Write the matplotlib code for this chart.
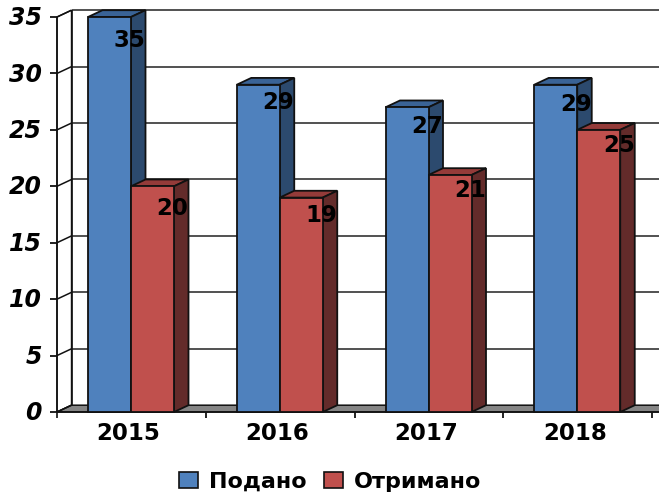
import matplotlib
matplotlib.use("Agg")
import matplotlib.pyplot as plt
from matplotlib.patches import Polygon, Patch

years = ["2015", "2016", "2017", "2018"]
podano = [35, 29, 27, 29]
otrymano = [20, 19, 21, 25]
y_ticks = [0, 5, 10, 15, 20, 25, 30, 35]

# decalage des etiquettes sous le haut de la barre (en points)
podano_label_drop = [17, 13, 14, 14]
otrymano_label_drop = [16, 13, 11, 11]

W, H = 659, 495
fig = plt.figure(figsize=(W / 100, H / 100), dpi=100)
plt.rcParams["font.family"] = ["DejaVu Sans"]

# axes = plan avant du graphique 3D
left, right, top, bottom = 57, 652, 17, 412
ax = fig.add_axes([left / W, 1 - bottom / H, (right - left) / W, (bottom - top) / H])
ax.set_xlim(0, 4)
ax.set_ylim(0, 35)
ax.axis("off")

# profondeur du pseudo 3D en unites de donnees
dx = 14.5 / 148.75
dy = 6.8 / (395 / 35)
x_max = 4.2
line = "#111111"


def poly(pts, fc, z, ec=line, lw=1.3):
    ax.add_patch(Polygon(pts, closed=True, fc=fc, ec=ec, lw=lw, zorder=z, clip_on=False, joinstyle="miter"))


def seg(xs, ys, c=line, lw=1.0, z=2):
    ax.plot(xs, ys, color=c, lw=lw, zorder=z, clip_on=False, solid_capstyle="butt")


# murs et sol
poly([(0, 0), (dx, dy), (dx, 35 + dy), (0, 35)], "white", 1, lw=1.0)
poly([(0, 0), (dx, dy), (x_max, dy), (x_max - dx, 0)], "#858585", 1.5, lw=1.1)
for v in y_ticks:
    seg([0, dx], [v, v + dy], lw=1.1)
    if v > 0:
        seg([dx, x_max], [v + dy, v + dy], c="#333333", lw=1.2)
    seg([-7 / 148.75, 0], [v, v], lw=1.3)
    ax.text(-15 / 148.75, v - 0.1, str(v), ha="right", va="center", fontsize=17,
            fontweight="bold", fontstyle="italic", clip_on=False)
seg([0, 0], [-6 / 11.29, 35], lw=1.2)
seg([dx, dx], [dy, 35 + dy], lw=1.2)
for i in range(1, 5):
    seg([i, i], [-6 / 11.29, 0], lw=1.3)
seg([0, x_max - dx], [0, 0], lw=1.2, z=2)


def bar3d(x0, w, v, front, roof, side, z):
    poly([(x0, v), (x0 + dx, v + dy), (x0 + w + dx, v + dy), (x0 + w, v)], roof, z)
    poly([(x0 + w, 0), (x0 + w + dx, dy), (x0 + w + dx, v + dy), (x0 + w, v)], side, z)
    poly([(x0, 0), (x0 + w, 0), (x0 + w, v), (x0, v)], front, z)


w = 43 / 148.75
start = 31 / 148.75
for i in range(len(years)):
    x0 = i + start
    bar3d(x0, w, podano[i], "#4F81BD", "#3A6396", "#2C4A6E", 3 + i)
    bar3d(x0 + w, w, otrymano[i], "#C0504D", "#943B39", "#632B2A", 3.5 + i)
    ax.annotate(str(podano[i]), (x0 + w, podano[i]), xytext=(-1, -podano_label_drop[i]),
                textcoords="offset points", ha="center", va="center", fontsize=16.5,
                fontweight="bold", zorder=10, annotation_clip=False)
    ax.annotate(str(otrymano[i]), (x0 + 2 * w, otrymano[i]), xytext=(-1, -otrymano_label_drop[i]),
                textcoords="offset points", ha="center", va="center", fontsize=16.5,
                fontweight="bold", zorder=10, annotation_clip=False)
    ax.text(i + 0.5 - 0.02, -1.9, years[i], ha="center", va="center", fontsize=16.5, fontweight="bold", clip_on=False)

handles = [Patch(fc="#4F81BD", ec=line, lw=1.2), Patch(fc="#C0504D", ec=line, lw=1.2)]
fig.legend(handles, ["Подано", "Отримано"], ncol=2, loc="center", bbox_to_anchor=(330 / W, 1 - 482 / H),
           frameon=False, handlelength=0.85, handleheight=0.7, handletextpad=0.5, columnspacing=0.8,
           borderpad=0, prop={"weight": "bold", "size": 16})

fig.savefig("out.png", dpi=100)
